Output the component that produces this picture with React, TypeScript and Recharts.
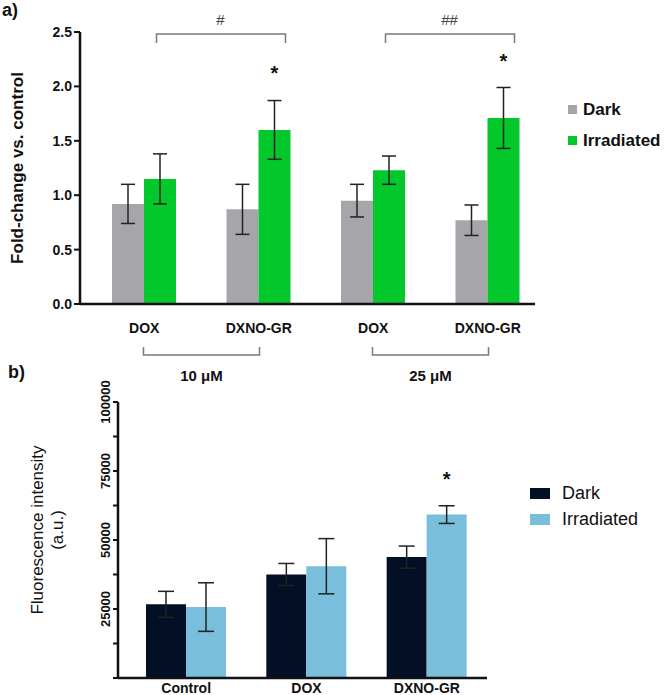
import React from 'react';
import { BarChart, Bar, XAxis, YAxis, ErrorBar, LabelList, Legend, Label } from 'recharts';

// panel a
const groupsA = ['DOX-10', 'DXNO-GR-10', 'DOX-25', 'DXNO-GR-25'];
const namesA = ['DOX', 'DXNO-GR', 'DOX', 'DXNO-GR'];
const concA = ['10 μM', '10 μM', '25 μM', '25 μM'];
const concLevels = ['10 μM', '25 μM'];
const hashA = ['#', '##'];
const darkA = [0.92, 0.87, 0.95, 0.77];
const darkErrA = [0.18, 0.23, 0.15, 0.14];
const irrA = [1.15, 1.6, 1.23, 1.71];
const irrErrA = [0.23, 0.27, 0.13, 0.28];
const starA = ['', '*', '', '*'];
const ticksA = [0, 0.5, 1, 1.5, 2, 2.5];

// panel b
const groupsB = ['Control', 'DOX', 'DXNO-GR'];
const darkB = [26700, 37500, 43800];
const darkErrB = [4700, 4000, 4000];
const irrB = [25700, 40500, 59200];
const irrErrB = [8800, 10000, 3200];
const starB = ['', '', '*'];
const ticksB = [0, 12500, 25000, 37500, 50000, 62500, 75000, 87500, 100000];
const labelledB = [25000, 50000, 75000, 100000];

const GRAY = '#a6a5aa';
const GREEN = '#03c82b';
const NAVY = '#030f25';
const SKY = '#79bedb';
const INK = '#111';

const dataA = groupsA.map((g, i) => ({
  group: g,
  conc: concA[i],
  dark: darkA[i],
  darkErr: darkErrA[i],
  irr: irrA[i],
  irrErr: irrErrA[i],
  star: starA[i],
}));

const dataB = groupsB.map((g, i) => ({
  group: g,
  dark: darkB[i],
  darkErr: darkErrB[i],
  irr: irrB[i],
  irrErr: irrErrB[i],
  star: starB[i],
}));

// bracket + concentration under the x axis
function ConcTick(props: any) {
  const { x, y, payload } = props;
  return (
    <g>
      <path d={`M${x - 58},${y + 3}V${y + 11}H${x + 58}V${y + 3}`} fill="none" stroke="#7a7a7a" strokeWidth={1.5} />
      <text x={x} y={y + 37} textAnchor="middle" fontSize={15} fontWeight="bold" fill={INK}>
        {payload.value}
      </text>
    </g>
  );
}

// significance bracket above the plot
function HashTick(props: any) {
  const { x, y, payload } = props;
  const i = concLevels.indexOf(payload.value);
  return (
    <g>
      <path d={`M${x - 45},${y + 11}V${y + 2}H${x + 84}V${y + 11}`} fill="none" stroke="#7a7a7a" strokeWidth={1.5} />
      <text x={x + 19} y={y - 7} textAnchor="middle" fontSize={15} fill="#444">
        {hashA[i]}
      </text>
    </g>
  );
}

function RotTick(props: any) {
  const { x, y, payload } = props;
  if (!labelledB.includes(payload.value)) return <g />;
  return (
    <text x={x} y={y} transform={`rotate(-90 ${x} ${y})`} textAnchor="middle" fontSize={13} fontWeight="bold" fill={INK}>
      {payload.value}
    </text>
  );
}

const legendA = (props: any) => (
  <div>
    {props.payload.map((e: any) => (
      <div key={e.value} style={{ display: 'flex', alignItems: 'center', height: 31 }}>
        <span style={{ width: 9, height: 9, background: e.color, marginRight: 6 }} />
        <span style={{ fontSize: 17, fontWeight: 'bold', color: INK }}>{e.value}</span>
      </div>
    ))}
  </div>
);

const legendB = (props: any) => (
  <div>
    {props.payload.map((e: any) => (
      <div key={e.value} style={{ display: 'flex', alignItems: 'center', height: 26 }}>
        <span style={{ width: 20, height: 11, background: e.color, marginRight: 12 }} />
        <span style={{ fontSize: 18, color: INK }}>{e.value}</span>
      </div>
    ))}
  </div>
);

const axisStyle = { stroke: INK, strokeWidth: 2.5 };
const tickLineStyle = { stroke: INK, strokeWidth: 2 };

export default function App() {
  return (
    <div
      style={{
        position: 'absolute',
        left: 0,
        top: 0,
        width: 664,
        height: 695,
        overflow: 'hidden',
        background: '#fff',
        fontFamily: "'Liberation Sans', Arial, sans-serif",
      }}
    >
      <div style={{ position: 'absolute', left: 2, top: 0, fontSize: 18, fontWeight: 'bold', color: INK }}>a)</div>
      <div style={{ position: 'absolute', left: 8, top: 362, fontSize: 18, fontWeight: 'bold', color: INK }}>b)</div>

      <div style={{ position: 'absolute', left: 0, top: 0 }}>
        <BarChart
          width={664}
          height={390}
          data={dataA}
          margin={{ top: 2, right: 129, bottom: 0, left: 0 }}
          barGap={0}
          barSize={32}
        >
          <XAxis
            dataKey="group"
            padding={{ left: 7, right: -10 }}
            tickFormatter={(v: string) => namesA[groupsA.indexOf(v)]}
            axisLine={axisStyle}
            tickLine={false}
            tickSize={0}
            tickMargin={19}
            height={40}
            interval={0}
            tick={{ fontSize: 14, fontWeight: 'bold', fill: INK }}
          />
          <XAxis
            xAxisId="conc"
            dataKey="conc"
            allowDuplicatedCategory={false}
            padding={{ left: 7, right: -10 }}
            axisLine={false}
            tickLine={false}
            tickSize={0}
            tickMargin={0}
            height={46}
            interval={0}
            tick={<ConcTick />}
          />
          <XAxis
            xAxisId="top"
            orientation="top"
            dataKey="conc"
            allowDuplicatedCategory={false}
            padding={{ left: 7, right: -10 }}
            axisLine={false}
            tickLine={false}
            tickSize={0}
            tickMargin={0}
            height={30}
            interval={0}
            tick={<HashTick />}
          />
          <YAxis
            width={80}
            domain={[0, 2.5]}
            ticks={ticksA}
            interval={0}
            tickFormatter={(v: number) => v.toFixed(1)}
            axisLine={axisStyle}
            tickLine={tickLineStyle}
            tickSize={6}
            tickMargin={2}
            tick={{ fontSize: 14, fontWeight: 'bold', fill: INK }}
          >
            <Label value="Fold-change vs. control" angle={-90} position="center" dx={-23} fontSize={17} fontWeight="bold" fill={INK} />
          </YAxis>
          <Legend
            layout="vertical"
            align="center"
            verticalAlign="middle"
            content={legendA}
            wrapperStyle={{ left: 568, top: 94, width: 100 }}
          />
          <Bar dataKey="dark" name="Dark" fill={GRAY} isAnimationActive={false}>
            <ErrorBar dataKey="darkErr" width={7} stroke="#222" strokeWidth={1.5} isAnimationActive={false} />
          </Bar>
          <Bar dataKey="irr" name="Irradiated" fill={GREEN} isAnimationActive={false}>
            <ErrorBar dataKey="irrErr" width={7} stroke="#222" strokeWidth={1.5} isAnimationActive={false} />
            <LabelList dataKey="star" position="top" offset={50} fontSize={20} fontWeight="bold" fill={INK} />
          </Bar>
        </BarChart>
      </div>

      <div style={{ position: 'absolute', left: 0, top: 370 }}>
        <BarChart
          width={664}
          height={325}
          data={dataB}
          margin={{ top: 32, right: 177, bottom: 0, left: 0 }}
          barGap={0}
          barSize={40}
        >
          <XAxis
            dataKey="group"
            padding={{ left: 8, right: 0 }}
            axisLine={axisStyle}
            tickLine={false}
            tickSize={0}
            tickMargin={5}
            height={17}
            interval={0}
            tick={{ fontSize: 14, fontWeight: 'bold', fill: INK }}
          />
          <YAxis
            width={118}
            domain={[0, 100000]}
            ticks={ticksB}
            interval={0}
            axisLine={axisStyle}
            tickLine={tickLineStyle}
            tickSize={5}
            tickMargin={3}
            tick={<RotTick />}
          >
            <Label value="Fluorescence intensity" angle={-90} position="center" dx={-22} dy={-10} fontSize={17} fill={INK} />
            <Label value="(a.u.)" angle={-90} position="center" dx={-2} dy={-10} fontSize={17} fill={INK} />
          </YAxis>
          <Legend
            layout="vertical"
            align="center"
            verticalAlign="middle"
            content={legendB}
            wrapperStyle={{ left: 530, top: 110, width: 130 }}
          />
          <Bar dataKey="dark" name="Dark" fill={NAVY} isAnimationActive={false}>
            <ErrorBar dataKey="darkErr" width={8} stroke="#222" strokeWidth={1.5} isAnimationActive={false} />
          </Bar>
          <Bar dataKey="irr" name="Irradiated" fill={SKY} isAnimationActive={false}>
            <ErrorBar dataKey="irrErr" width={8} stroke="#222" strokeWidth={1.5} isAnimationActive={false} />
            <LabelList dataKey="star" position="top" offset={29} fontSize={20} fontWeight="bold" fill={INK} />
          </Bar>
        </BarChart>
      </div>
    </div>
  );
}
